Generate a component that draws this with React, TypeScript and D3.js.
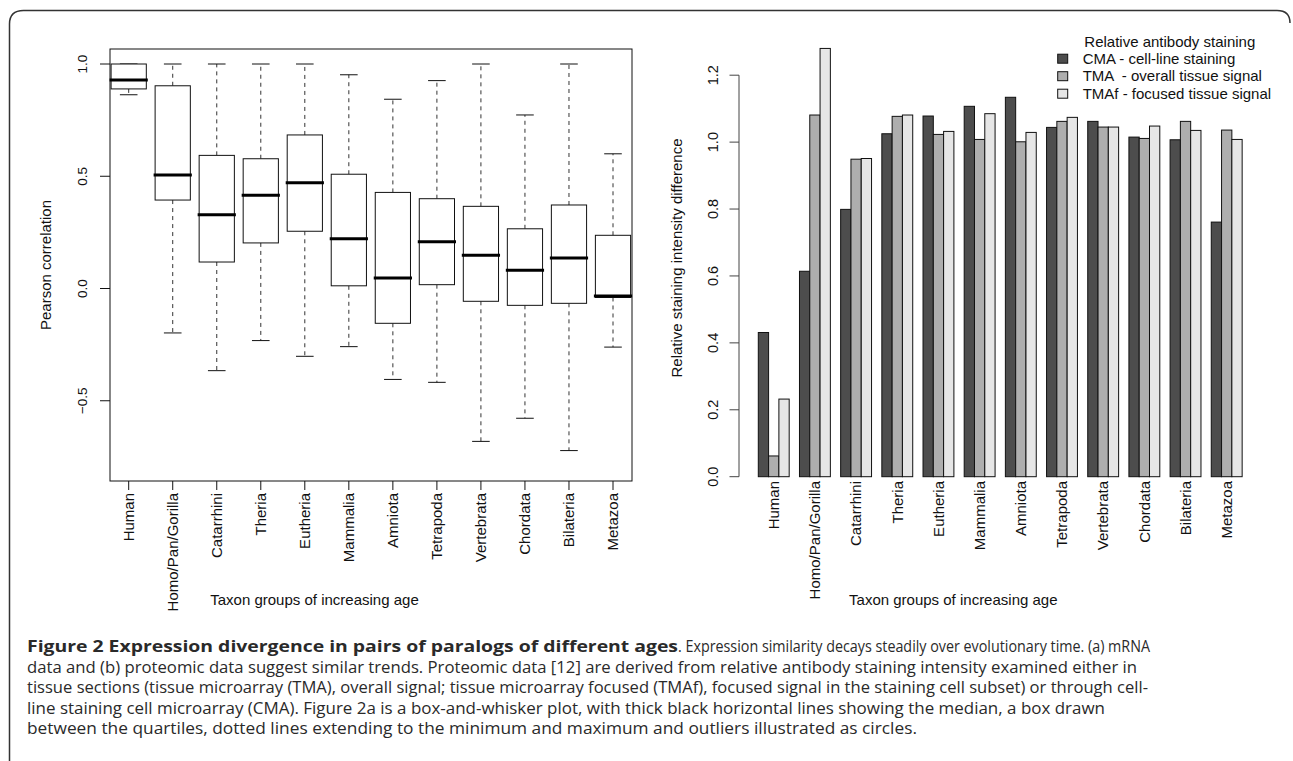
import React from 'react';
import * as d3 from 'd3';

// Taxon groups, ordered by increasing age
const categories = [
  'Human', 'Homo/Pan/Gorilla', 'Catarrhini', 'Theria', 'Eutheria', 'Mammalia',
  'Amniota', 'Tetrapoda', 'Vertebrata', 'Chordata', 'Bilateria', 'Metazoa',
];

// (a) Pearson correlation, box-and-whisker summaries
const whiskerLow = [0.863, -0.198, -0.366, -0.232, -0.302, -0.259, -0.405, -0.418, -0.681, -0.578, -0.722, -0.261];
const quartile1 = [0.889, 0.394, 0.118, 0.203, 0.255, 0.012, -0.155, 0.017, -0.057, -0.075, -0.066, -0.04];
const medians = [0.929, 0.506, 0.329, 0.415, 0.471, 0.222, 0.047, 0.208, 0.148, 0.081, 0.136, -0.033];
const quartile3 = [1.0, 0.903, 0.593, 0.578, 0.684, 0.509, 0.428, 0.4, 0.366, 0.266, 0.372, 0.237];
const whiskerHigh = [1.0, 1.0, 1.0, 1.0, 1.0, 0.952, 0.843, 0.926, 1.0, 0.773, 1.0, 0.6];

// (b) Relative staining intensity difference
const cmaValues = [0.431, 0.614, 0.799, 1.025, 1.078, 1.107, 1.134, 1.044, 1.062, 1.015, 1.007, 0.761];
const tmaValues = [0.062, 1.081, 0.949, 1.077, 1.023, 1.008, 1.001, 1.062, 1.045, 1.011, 1.062, 1.036];
const tmafValues = [0.232, 1.28, 0.951, 1.081, 1.032, 1.085, 1.029, 1.074, 1.045, 1.048, 1.035, 1.008];

const seriesKeys = ['cma', 'tma', 'tmaf'];
const seriesNames = ['CMA - cell-line staining', 'TMA  - overall tissue signal', 'TMAf - focused tissue signal'];
const seriesColors = ['#4d4d4d', '#aeaeae', '#e6e6e6'];

const leftTicks = [-0.5, 0, 0.5, 1.0];
const rightTicks = [0, 0.2, 0.4, 0.6, 0.8, 1.0, 1.2];

const captionBold = 'Figure 2 Expression divergence in pairs of paralogs of different ages';
const captionLines = [
  '. Expression similarity decays steadily over evolutionary time. (a) mRNA',
  'data and (b) proteomic data suggest similar trends. Proteomic data [12] are derived from relative antibody staining intensity examined either in',
  'tissue sections (tissue microarray (TMA), overall signal; tissue microarray focused (TMAf), focused signal in the staining cell subset) or through cell-',
  'line staining cell microarray (CMA). Figure 2a is a box-and-whisker plot, with thick black horizontal lines showing the median, a box drawn',
  'between the quartiles, dotted lines extending to the minimum and maximum and outliers illustrated as circles.',
];
const captionWidths = [472, 1110, 1121, 1078, 890];

const FONT = '"Liberation Sans", Arial, Helvetica, sans-serif';
const fmt = (v: number) => (v < 0 ? '\u2212' : '') + d3.format('.1f')(Math.abs(v));

export default function App() {
  // ---- left: box plot ----
  const left = { x0: 110, x1: 632, y0: 49, y1: 481 };
  const xL = d3.scaleLinear().domain([1, 12]).range([128.7, 613]);
  const yL = d3.scaleLinear().domain([0, 1]).range([288.5, 64]);
  const unit = xL(2) - xL(1);
  const boxW = unit * 0.8;
  const capW = unit * 0.4;

  // ---- right: grouped bars ----
  const x0 = d3.scaleBand().domain(categories).range([753.15, 1247.3]).paddingInner(0.25).paddingOuter(0.125);
  const x1 = d3.scaleBand().domain(seriesKeys).range([0, x0.bandwidth()]);
  const yR = d3.scaleLinear().domain([0, 1.2]).range([476.7, 75.2]);
  const barData = categories.map((c, i) => ({
    category: c,
    values: [cmaValues[i], tmaValues[i], tmafValues[i]],
  }));
  const axisX = 739;

  return (
    <svg width={1293} height={761} style={{ position: 'absolute', left: 0, top: 0, background: '#fff' }}
      fontFamily={FONT}>
      {/* outer frame */}
      <path d="M9.5,761 L9.5,24 Q9.5,10.5 23.5,10.5 L1277,10.5 Q1290,10.5 1290,23"
        fill="none" stroke="#333" strokeWidth={1.5} />

      {/* ===== (a) box plot ===== */}
      <rect x={left.x0} y={left.y0} width={left.x1 - left.x0} height={left.y1 - left.y0}
        fill="none" stroke="#111" strokeWidth={1} />
      {leftTicks.map(t => (
        <g key={t}>
          <line x1={left.x0 - 10} x2={left.x0} y1={yL(t)} y2={yL(t)} stroke="#111" />
          <text transform={`translate(82,${yL(t)}) rotate(-90)`} textAnchor="middle" dy="0.35em"
            fontSize={13.5} fill="#111">{fmt(t)}</text>
        </g>
      ))}
      <text transform={`translate(46,${(left.y0 + left.y1) / 2}) rotate(-90)`} textAnchor="middle" dy="0.35em"
        fontSize={15} fill="#111">Pearson correlation</text>

      {categories.map((c, i) => {
        const cx = xL(i + 1);
        return (
          <g key={c}>
            <line x1={cx} x2={cx} y1={yL(quartile3[i])} y2={yL(whiskerHigh[i])} stroke="#333" strokeDasharray="4,4" />
            <line x1={cx} x2={cx} y1={yL(quartile1[i])} y2={yL(whiskerLow[i])} stroke="#333" strokeDasharray="4,4" />
            <line x1={cx - capW / 2} x2={cx + capW / 2} y1={yL(whiskerHigh[i])} y2={yL(whiskerHigh[i])} stroke="#111" />
            <line x1={cx - capW / 2} x2={cx + capW / 2} y1={yL(whiskerLow[i])} y2={yL(whiskerLow[i])} stroke="#111" />
            <rect x={cx - boxW / 2} y={yL(quartile3[i])} width={boxW} height={yL(quartile1[i]) - yL(quartile3[i])}
              fill="#fff" stroke="#111" />
            <line x1={cx - boxW / 2} x2={cx + boxW / 2} y1={yL(medians[i])} y2={yL(medians[i])}
              stroke="#000" strokeWidth={3} strokeLinecap="square" />
            <line x1={cx} x2={cx} y1={left.y1} y2={left.y1 + 9} stroke="#111" />
            <text transform={`translate(${cx},${left.y1 + 12}) rotate(-90)`} textAnchor="end" dy="0.35em"
              fontSize={15} fill="#111">{c}</text>
          </g>
        );
      })}
      <text x={314.5} y={605} textAnchor="middle" fontSize={15} fill="#111">Taxon groups of increasing age</text>

      {/* ===== (b) grouped bar chart ===== */}
      <line x1={axisX} x2={axisX} y1={yR(0)} y2={yR(1.2)} stroke="#444" />
      {rightTicks.map(t => (
        <g key={t}>
          <line x1={axisX - 9.5} x2={axisX} y1={yR(t)} y2={yR(t)} stroke="#444" />
          <text transform={`translate(712.5,${yR(t)}) rotate(-90)`} textAnchor="middle" dy="0.35em"
            fontSize={14.5} fill="#111">{fmt(t)}</text>
        </g>
      ))}
      <text transform={`translate(677,258) rotate(-90)`} textAnchor="middle" dy="0.35em"
        fontSize={15} fill="#111">Relative staining intensity difference</text>

      {barData.map(d => (
        <g key={d.category} transform={`translate(${x0(d.category)},0)`}>
          {d.values.map((v, j) => (
            <rect key={j} x={x1(seriesKeys[j])} y={yR(v)} width={x1.bandwidth()} height={yR(0) - yR(v)}
              fill={seriesColors[j]} stroke="#111" strokeWidth={1} />
          ))}
          <text transform={`translate(${x0.bandwidth() / 2},481) rotate(-90)`} textAnchor="end" dy="0.35em"
            fontSize={15} fill="#111">{d.category}</text>
        </g>
      ))}
      <text x={953.3} y={605} textAnchor="middle" fontSize={15} fill="#111">Taxon groups of increasing age</text>

      {/* legend */}
      <text x={1084.3} y={47} fontSize={15} fill="#111">Relative antibody staining</text>
      {seriesNames.map((name, j) => (
        <g key={name} transform={`translate(0,${58.7 + j * 17.5})`}>
          <rect x={1057.7} y={-4.5} width={10} height={9} fill={seriesColors[j]} stroke="#111" />
          <text x={1082.7} y={5} fontSize={15} fill="#111" style={{ whiteSpace: 'pre' }}>{name}</text>
        </g>
      ))}

      {/* caption */}
      <g fontFamily='"Open Sans", "Noto Sans", sans-serif' fontSize={16.5} fill="#2a2a2a">
        <text x={27} y={652} fontWeight="bold" textLength={651} lengthAdjust="spacingAndGlyphs">{captionBold}</text>
        {captionLines.map((line, i) => (
          <text key={i} x={i === 0 ? 678 : 27} y={652 + i * 20.5}
            textLength={captionWidths[i]} lengthAdjust="spacingAndGlyphs">{line}</text>
        ))}
      </g>
    </svg>
  );
}
